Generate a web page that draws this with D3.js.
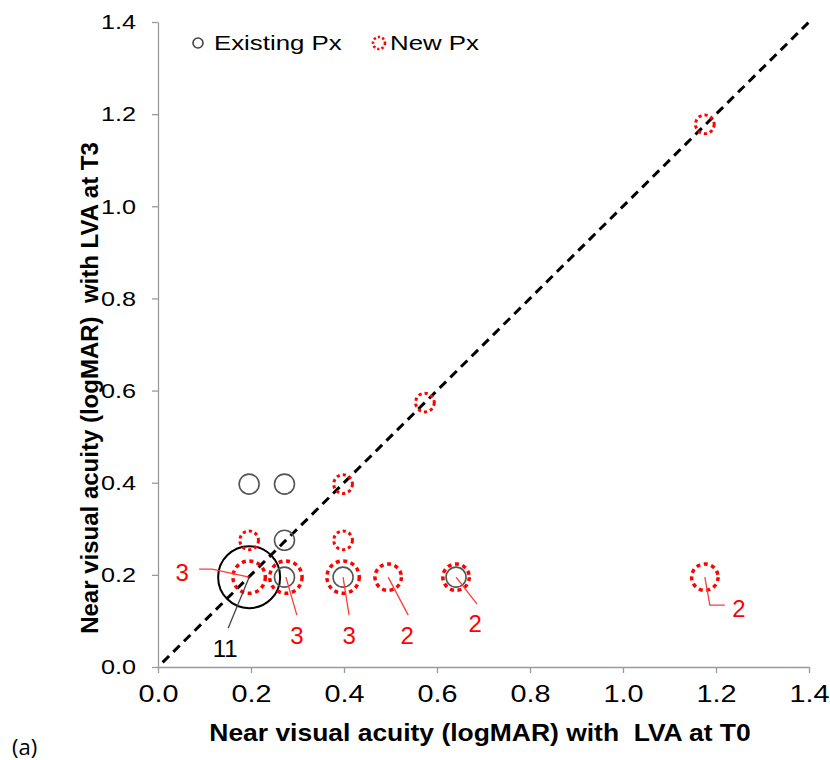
<!DOCTYPE html>
<html lang="en">
<head>
<meta charset="UTF-8">
<title>Near visual acuity T0 vs T3</title>
<script src="https://d3js.org/d3.v7.min.js"></script>
<style>
  body { margin: 0; background: #fff; }
  text { font-family: "Liberation Sans", Arial, sans-serif; }
</style>
</head>
<body>
<script>
// existing patients: logMAR at T0, at T3, number of patients
var existX = [0.196, 0.272, 0.196, 0.272, 0.272, 0.398, 0.641];
var existY = [0.195, 0.397, 0.397, 0.275, 0.195, 0.195, 0.195];
var existN = [11, 1, 1, 1, 1, 1, 1];

// new patients
var newX = [1.176, 0.574, 0.398, 0.398, 0.196, 0.196, 0.275, 0.398, 0.495, 0.641, 1.176];
var newY = [1.178, 0.574, 0.397, 0.275, 0.275, 0.195, 0.195, 0.195, 0.195, 0.195, 0.195];
var newN = [1, 1, 1, 1, 1, 3, 3, 3, 2, 2, 2];

var ticks = [0, 0.2, 0.4, 0.6, 0.8, 1.0, 1.2, 1.4];

// count labels: which group / point index, and pixel offsets of the label
var labels = [
  {grp: "new", i: 5, txt: "3", lx: -67, ly: -5, path: [[-37, -8], [-50, -8]]},
  {grp: "exist", i: 0, txt: "11", lx: -24, ly: 71, path: [[-21, 51]]},
  {grp: "new", i: 6, txt: "3", lx: 11, ly: 58, path: [[11, 38]]},
  {grp: "new", i: 7, txt: "3", lx: 6, ly: 58, path: [[6, 38]]},
  {grp: "new", i: 8, txt: "2", lx: 19, ly: 58, path: [[20, 38]]},
  {grp: "new", i: 9, txt: "2", lx: 19, ly: 46, path: [[21, 27]]},
  {grp: "new", i: 10, txt: "2", lx: 34, ly: 31, path: [[5, 28], [20, 28]]}
];

var W = 830, H = 760;
var svg = d3.select("body").append("svg").attr("width", W).attr("height", H);

var x = d3.scaleLinear().domain([0, 1.4]).range([158, 809]);
var y = d3.scaleLinear().domain([0, 1.4]).range([667, 22]);
var r = d3.scaleSqrt().domain([0, 11]).range([0, 31]);

// the source picture is a little wide, so text gets a horizontal stretch
var sx = 1.2;

// axes
var xAxis = svg.append("g").attr("transform", "translate(0," + y(0) + ")")
  .call(d3.axisBottom(x).tickValues(ticks).tickFormat(d3.format(".1f")).tickSize(6).tickSizeOuter(0).tickPadding(12));
var yAxis = svg.append("g").attr("transform", "translate(" + x(0) + ",0)")
  .call(d3.axisLeft(y).tickValues(ticks).tickFormat(d3.format(".1f")).tickSize(6).tickSizeOuter(0));
[xAxis, yAxis].forEach(function(g) {
  g.selectAll("path, line").attr("stroke", "#9a9a9a").attr("stroke-width", 1.3);
  g.selectAll("text").attr("fill", "#000")
    .style("font-family", "'Liberation Sans', Arial, sans-serif")
    .attr("transform", "scale(" + sx + ",1)");
});
xAxis.selectAll("text").attr("font-size", 24);
yAxis.selectAll("text").attr("font-size", 21).attr("x", -22 / sx);

// identity line
svg.append("line")
  .attr("x1", x(0.01)).attr("y1", y(0.01)).attr("x2", x(1.4)).attr("y2", y(1.4))
  .attr("stroke", "#000").attr("stroke-width", 3).attr("stroke-dasharray", "9,6");

var exist = existX.map(function(d, i) { return {x: d, y: existY[i], n: existN[i]}; });
var news = newX.map(function(d, i) { return {x: d, y: newY[i], n: newN[i]}; });

svg.selectAll(".exist").data(exist).enter().append("circle")
  .attr("cx", function(d) { return x(d.x); })
  .attr("cy", function(d) { return y(d.y); })
  .attr("r", function(d) { return d.n > 1 ? r(d.n) : 10; })
  .attr("fill", "none")
  .attr("stroke", function(d) { return d.n > 1 ? "#000" : "#555"; })
  .attr("stroke-width", function(d) { return d.n > 1 ? 2 : 1.6; });

svg.selectAll(".new").data(news).enter().append("circle")
  .attr("cx", function(d) { return x(d.x); })
  .attr("cy", function(d) { return y(d.y); })
  .attr("r", function(d) { return r(d.n); })
  .attr("fill", "none")
  .attr("stroke", "#ff0000")
  .attr("stroke-width", function(d) { return d.n > 1 ? 3.5 : 3; })
  .attr("stroke-dasharray", function(d) { return d.n > 1 ? "4,3.6" : "3.2,3"; });

// count labels with leader lines
labels.forEach(function(l) {
  var p = l.grp == "new" ? news[l.i] : exist[l.i];
  var px = x(p.x), py = y(p.y);
  var pts = [[px, py]].concat(l.path.map(function(q) { return [px + q[0], py + q[1]]; }));
  svg.append("path")
    .attr("d", d3.line()(pts))
    .attr("fill", "none")
    .attr("stroke", l.grp == "new" ? "#ff3b3b" : "#444")
    .attr("stroke-width", 1.3);
  svg.append("text")
    .attr("x", px + l.lx).attr("y", py + l.ly)
    .attr("dy", "0.36em")
    .attr("text-anchor", "middle")
    .attr("font-size", 24)
    .attr("fill", l.grp == "new" ? "#ff0000" : "#000")
    .text(l.txt);
});

// legend
svg.append("circle").attr("cx", 198).attr("cy", 43).attr("r", 5)
  .attr("fill", "none").attr("stroke", "#444").attr("stroke-width", 1.6);
svg.append("text").attr("transform", "translate(214,50) scale(1.23,1)")
  .attr("font-size", 21).text("Existing Px");
svg.append("circle").attr("cx", 379).attr("cy", 43).attr("r", 6)
  .attr("fill", "none").attr("stroke", "#ff0000").attr("stroke-width", 2.6)
  .attr("stroke-dasharray", "2.2,2.2");
svg.append("text").attr("transform", "translate(390,50) scale(1.23,1)")
  .attr("font-size", 21).text("New Px");

// axis titles
svg.append("text").attr("transform", "translate(480,741) scale(1.15,1)")
  .attr("text-anchor", "middle").attr("font-size", 23).attr("font-weight", "bold")
  .attr("xml:space", "preserve")
  .text("Near visual acuity (logMAR) with  LVA at T0");
svg.append("text").attr("transform", "translate(98,388) rotate(-90)")
  .attr("text-anchor", "middle").attr("font-size", 24).attr("font-weight", "bold")
  .attr("xml:space", "preserve")
  .text("Near visual acuity (logMAR)  with LVA at T3");

svg.append("text").attr("x", 12).attr("y", 755).attr("font-size", 22)
  .style("font-family", "'Open Sans', sans-serif").text("(a)");
</script>
</body>
</html>
